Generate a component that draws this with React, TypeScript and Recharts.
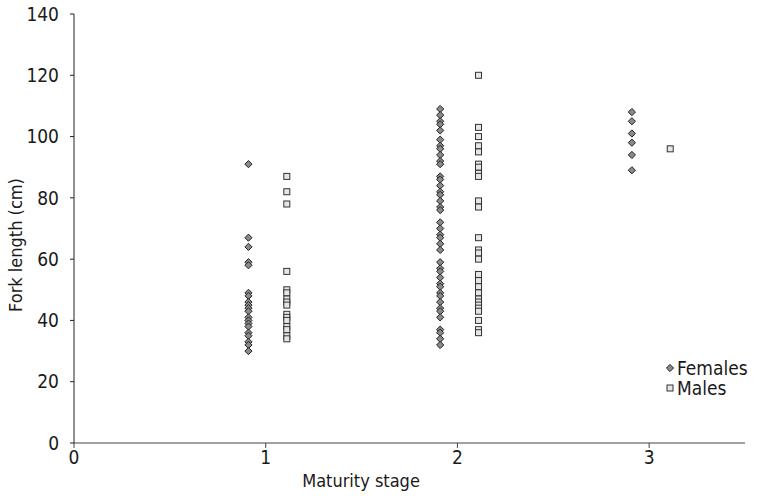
import { ScatterChart, Scatter, XAxis, YAxis } from "recharts";

const femaleStage1 = [91, 67, 64, 59, 58, 49, 48, 46, 45, 44, 43, 41, 40, 39, 38, 36, 35, 33, 32, 30];
const maleStage1 = [87, 82, 78, 56, 50, 49, 47, 46, 45, 42, 41, 40, 38, 37, 35, 34];
const femaleStage2 = [
  109, 107, 105, 104, 102, 99, 97, 96, 94, 92, 91, 87, 86, 84, 82, 81, 79, 77, 76, 72, 70, 68, 67, 65, 63,
  59, 57, 56, 54, 52, 51, 49, 48, 46, 44, 43, 41, 37, 36, 34, 32,
];
const maleStage2 = [120, 103, 100, 97, 95, 91, 90, 88, 87, 79, 77, 67, 63, 62, 60, 55, 53, 51, 49, 47, 46, 45, 44, 43, 40, 37, 36];
const femaleStage3 = [108, 105, 101, 98, 94, 89];
const maleStage3 = [96];

const femaleX = [0.91, 1.91, 2.91];
const maleX = [1.11, 2.11, 3.11];
const yTicks = [0, 20, 40, 60, 80, 100, 120, 140];
const xTicks = [0, 1, 2, 3];

const females = [femaleStage1, femaleStage2, femaleStage3].flatMap((arr, i) =>
  arr.map((y) => ({ x: femaleX[i], y }))
);
const males = [maleStage1, maleStage2, maleStage3].flatMap((arr, i) =>
  arr.map((y) => ({ x: maleX[i], y }))
);

const FONT = "'DejaVu Sans Condensed', 'Liberation Sans Narrow', 'Roboto', sans-serif";
const INK = "#1a1a1a";

const Diamond = (props: any) => {
  const { cx, cy } = props;
  const r = 3.6;
  return (
    <path
      d={`M${cx},${cy - r}L${cx + r},${cy}L${cx},${cy + r}L${cx - r},${cy}Z`}
      fill="#8a8a8a"
      stroke="#222"
      strokeWidth={1}
    />
  );
};

const Square = (props: any) => {
  const { cx, cy } = props;
  const s = 3;
  return (
    <rect x={cx - s} y={cy - s} width={s * 2} height={s * 2} fill="#e6e6e6" stroke="#333" strokeWidth={1} />
  );
};

const YLabel = () => (
  <text
    x={15}
    y={245}
    transform="rotate(-90 15 245)"
    textAnchor="middle"
    dominantBaseline="central"
    fill={INK}
    fontSize={18}
    fontFamily={FONT}
  >
    Fork length (cm)
  </text>
);

const XLabel = () => (
  <text x={361} y={487} textAnchor="middle" fill={INK} fontSize={18} fontFamily={FONT}>
    Maturity stage
  </text>
);

export default function App() {
  return (
    <div style={{ position: "absolute", left: 0, top: 0, width: 758, height: 496, background: "#fff" }}>
      <ScatterChart width={758} height={496} margin={{ top: 14, right: 13, left: 0, bottom: 0 }}>
        <XAxis
          type="number"
          dataKey="x"
          domain={[0, 3.5]}
          ticks={xTicks}
          tickSize={5}
          tickMargin={3}
          height={53}
          stroke="#444"
          tick={{ fill: INK, fontSize: 19, fontFamily: FONT }}
          label={<XLabel />}
        />
        <YAxis
          type="number"
          dataKey="y"
          domain={[0, 140]}
          ticks={yTicks}
          tickSize={4}
          tickMargin={11}
          width={74}
          stroke="#222"
          tick={{ fill: INK, fontSize: 19, fontFamily: FONT }}
          label={<YLabel />}
        />
        <Scatter name="Females" data={females} shape={<Diamond />} isAnimationActive={false} />
        <Scatter name="Males" data={males} shape={<Square />} isAnimationActive={false} />
      </ScatterChart>
      <div
        style={{
          position: "absolute",
          left: 664,
          top: 358,
          fontFamily: FONT,
          fontSize: 19,
          color: INK,
          lineHeight: "20px",
        }}
      >
        <div style={{ display: "flex", alignItems: "center" }}>
          <svg width={12} height={12} style={{ marginRight: 1 }}>
            <Diamond cx={6} cy={6} />
          </svg>
          Females
        </div>
        <div style={{ display: "flex", alignItems: "center" }}>
          <svg width={12} height={12} style={{ marginRight: 1 }}>
            <Square cx={6} cy={6} />
          </svg>
          Males
        </div>
      </div>
    </div>
  );
}
